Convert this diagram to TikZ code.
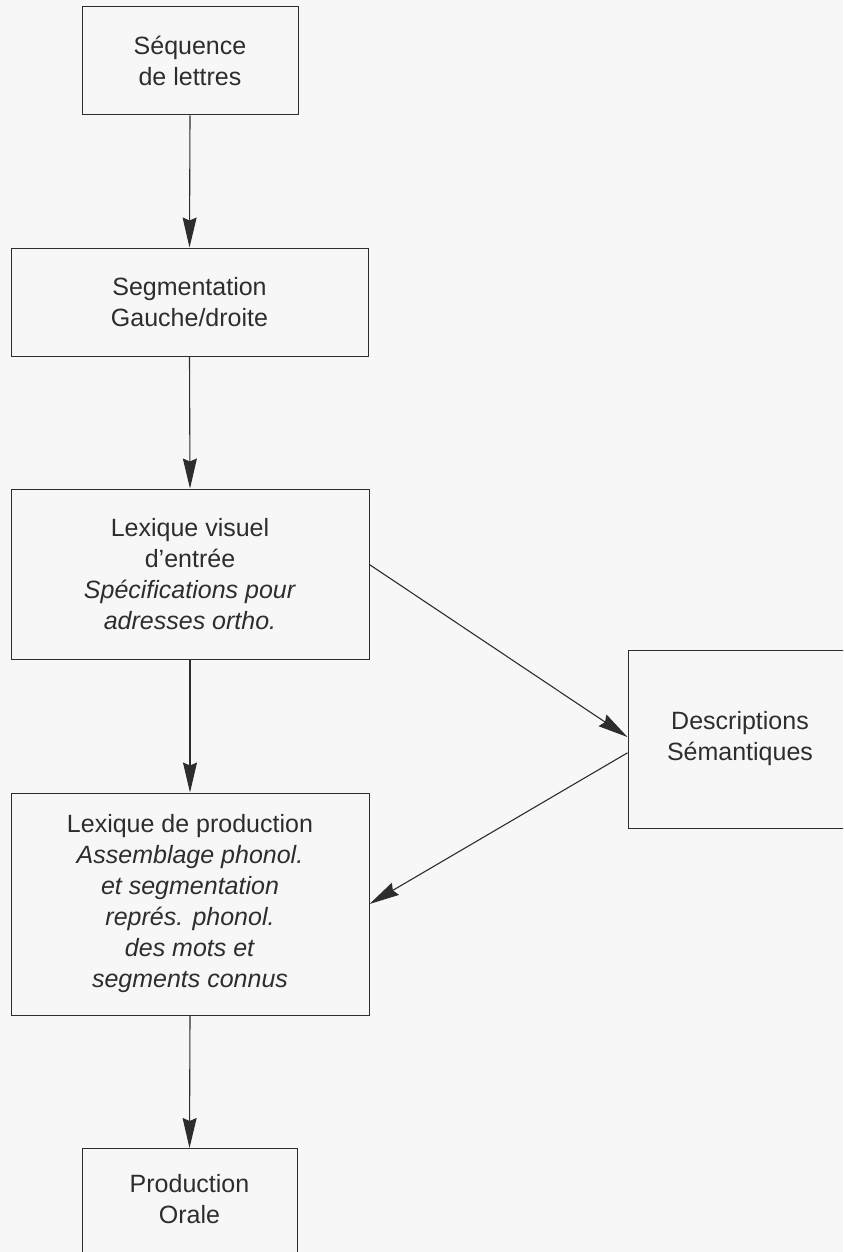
\documentclass[tikz,border=0pt]{standalone}
\usepackage{fontspec}
\setmainfont{Liberation Sans}
\usetikzlibrary{arrows.meta}
\definecolor{paper}{RGB}{247,247,247}
\definecolor{ink}{RGB}{45,45,45}
\tikzset{
  box/.style={draw=ink, line width=1pt, rectangle, inner sep=0pt, align=center,
    text=ink, font=\fontsize{25}{31}\selectfont},
  txt/.style={inner sep=0pt, align=center, text=ink, font=\fontsize{25}{31}\selectfont},
  arr/.style={draw=ink, line width=1.1pt, -{Stealth[length=30pt,width=14pt,inset=3pt]}},
}
\begin{document}
\begin{tikzpicture}[x=1pt,y=-1pt]
\useasboundingbox (0,0) rectangle (843,1252);
\fill[paper] (0,0) rectangle (843,1252);
\clip (0,0) rectangle (843,1252);
\node (b1) [box, minimum width=216, minimum height=108] at (190,61) {Séquence\\de lettres};
\node (b2) [box, minimum width=357, minimum height=108] at (189.5,302) {Segmentation\\Gauche/droite};
\node (b3) [box, minimum width=358, minimum height=170] at (190,574) {Lexique visuel\\d’entrée\\\textit{Spécifications pour}\\\textit{adresses ortho.}};
\node (b4) [box, minimum width=358, minimum height=222] at (190,904) {Lexique de production\\\textit{Assemblage phonol.}\\\textit{et segmentation}\\\textit{représ. phonol.}\\\textit{des mots et}\\\textit{segments connus}};
\node (ds) [box, minimum width=224, minimum height=178] at (740,739) {Descriptions\\Sémantiques};
\node (b5) [box, minimum width=215, minimum height=130, anchor=north] at (189.5,1148) {};
\node (b5t) [txt] at (189.5,1199) {Production\\Orale};
\draw[arr] (b1.south) -- (b2.north);
\draw[arr] (b2.south) -- (b3.north);
\draw[arr] (b3.south) -- (b4.north);
\draw[arr] (b4.south) -- (b5.north);
\draw[arr] (b3.3.2) -- (ds.179);
\draw[arr] (ds.187) -- (b4.east);
\end{tikzpicture}
\end{document}
